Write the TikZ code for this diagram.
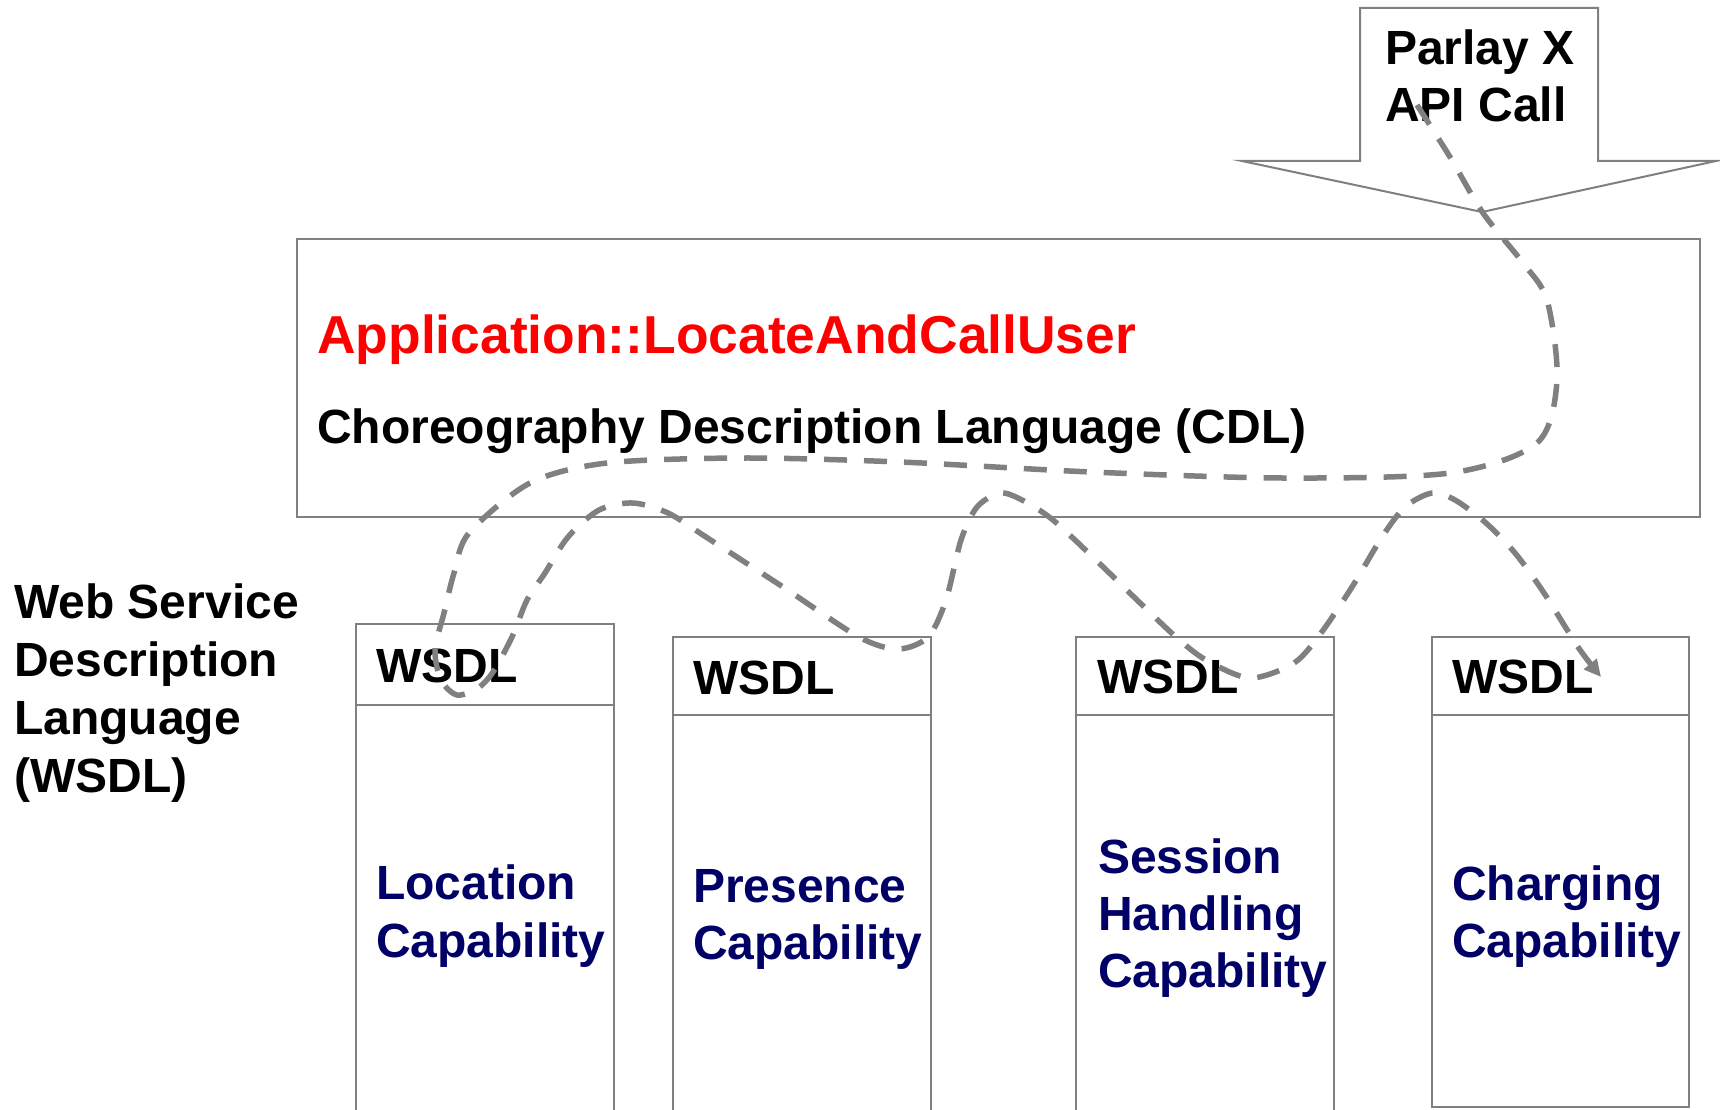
\documentclass[tikz,border=0pt]{standalone}
\usepackage{fontspec}
\setmainfont{Liberation Sans}
\usetikzlibrary{arrows.meta}
\definecolor{navy}{RGB}{0,0,102}
\definecolor{linegray}{RGB}{128,128,128}
\begin{document}
\begin{tikzpicture}[x=1pt,y=-1pt,
  boxline/.style={draw=linegray, line width=2pt},
  boxnode/.style={boxline, anchor=north west, inner sep=0pt, outer sep=0pt},
  lbl/.style={anchor=base west, inner sep=0pt, font=\fontsize{48}{56}\selectfont\bfseries},
  captext/.style={lbl, text=navy},
  flow/.style={draw=linegray, line width=5.5pt, dash pattern=on 23pt off 17pt, -{Triangle[length=17pt,width=16pt]}}]
\fill[white] (0,0) rectangle (1720,1110);
\path[use as bounding box] (0,0) rectangle (1720,1110);

% Parlay X block arrow
\draw[boxline, line join=miter] (1360,8) -- (1598,8) -- (1598,161) -- (1716,161) -- (1482,212) -- (1242,161) -- (1360,161) -- cycle;
\node[lbl] (px1) at (1385,65) {Parlay X};
\node[lbl] (px2) at (1385,122) {API Call};

% CDL box
\node[boxnode, minimum width=1403pt, minimum height=278pt] (cdl) at (297,239) {};
\node[lbl, text=red, font=\fontsize{53.4}{60}\selectfont\bfseries] (app) at (317,353) {Application::LocateAndCallUser};
\node[lbl] (cdltxt) at (317,443) {Choreography Description Language (CDL)};

% left label
\node[lbl] (ws1) at (14,618) {Web Service};
\node[lbl] (ws2) at (14,676) {Description};
\node[lbl] (ws3) at (14,734) {Language};
\node[lbl] (ws4) at (14,792) {(WSDL)};

% WSDL boxes
\node[boxnode, minimum width=258pt, minimum height=81pt] (w1) at (356,624) {};
\draw[boxline] (w1.south west) -- (356,1115);
\draw[boxline] (w1.south east) -- (614,1115);
\node[boxnode, minimum width=258pt, minimum height=78pt] (w2) at (673,637) {};
\draw[boxline] (w2.south west) -- (673,1115);
\draw[boxline] (w2.south east) -- (931,1115);
\node[boxnode, minimum width=258pt, minimum height=78pt] (w3) at (1076,637) {};
\draw[boxline] (w3.south west) -- (1076,1115);
\draw[boxline] (w3.south east) -- (1334,1115);
\node[boxnode, minimum width=257pt, minimum height=78pt] (w4) at (1432,637) {};
\draw[boxline] (w4.south west) -- (1432,1107) -- (1689,1107) -- (w4.south east);

\node[lbl] (t1) at (376,682) {WSDL};
\node[lbl] (t2) at (693,694) {WSDL};
\node[lbl] (t3) at (1097,693) {WSDL};
\node[lbl] (t4) at (1452,693) {WSDL};

\node[captext] (c1a) at (376,899) {Location};
\node[captext] (c1b) at (376,957) {Capability};
\node[captext] (c2a) at (693,902) {Presence};
\node[captext] (c2b) at (693,959) {Capability};
\node[captext] (c3a) at (1098,873) {Session};
\node[captext] (c3b) at (1098,930) {Handling};
\node[captext] (c3c) at (1098,987) {Capability};
\node[captext] (c4a) at (1452,900) {Charging};
\node[captext] (c4b) at (1452,957) {Capability};

% flow
\coordinate (fstart) at (1417,105);
\coordinate (fend) at (1601,677);
\draw[flow] plot[smooth, tension=0.5] coordinates {
 (fstart) (1450,157) (1483,213) (1523,263) (1547,300) (1557,380) (1537,443)
 (1450,473) (1283,478) (1091,472) (900,462) (744,458) (607,463) (530,483)
 (469,533) (454,573) (444,613) (435,650) (441,680) (457,695) (478,688)
 (493,672) (512,637) (527,600) (545,573) (568,537) (599,510) (633,503)
 (668,513) (706,537) (783,587) (859,637) (898,649) (928,637) (946,600)
 (961,540) (977,507) (1000,493) (1022,500) (1053,520) (1099,563) (1137,600)
 (1176,637) (1206,660) (1250,678) (1294,663) (1321,633) (1352,587) (1382,537)
 (1405,507) (1432,493) (1455,500) (1486,523) (1515,553) (1544,593) (1578,647) (fend)};
\end{tikzpicture}
\end{document}
